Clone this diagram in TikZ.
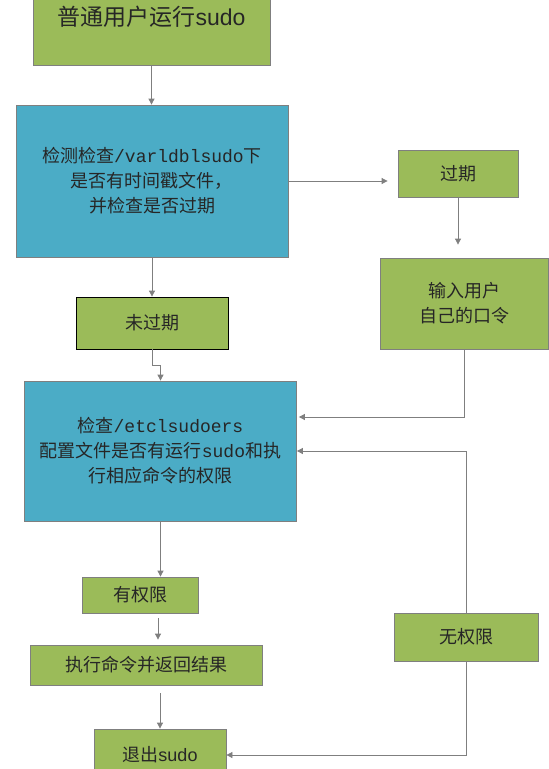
\documentclass[tikz,border=0pt]{standalone}
\usepackage{fontspec}
\setmainfont{Noto Sans CJK SC}
\newfontfamily\cjk{Noto Sans CJK SC}
\newfontfamily\mono{Liberation Mono}
\newfontfamily\arial{Liberation Sans}
\usetikzlibrary{positioning, calc, arrows.meta}
\usepackage{xcolor}
\definecolor{boxgreen}{HTML}{9BBB59}
\definecolor{boxblue}{HTML}{4BACC6}
\definecolor{edgegray}{HTML}{7F7F7F}
\tikzset{greenbox/.style={draw=edgegray, fill=boxgreen, text=black!85, line width=0.8pt, inner sep=0pt, align=center, font=\cjk\fontsize{18}{25}\selectfont}}
\tikzset{bluebox/.style={greenbox, fill=boxblue}}
\tikzset{flow/.style={draw=edgegray, line width=0.8pt, ->, >={Triangle[length=6pt, width=6pt]}}}

\begin{document}
\begin{tikzpicture}[x=1pt, y=-1pt]
      \useasboundingbox (0,0) rectangle (549,769);
      \node[greenbox, minimum width=237pt, minimum height=96pt, font=\cjk\fontsize{23}{28}\selectfont] (b0) at (151.5,17) {普通用户运行{\arial sudo}};
      \node[bluebox, minimum width=272pt, minimum height=152pt] (c0) at (152,181) {检测检查{\mono /varldblsudo}下\\是否有时间戳文件，\\并检查是否过期};
      \node[greenbox, minimum width=120pt, minimum height=47pt] (e0) at (458,173.5) {过期};
      \node[greenbox, minimum width=168pt, minimum height=91pt] (i0) at (464,303.5) {输入用户\\自己的口令};
      \node[greenbox, draw=black, minimum width=152pt, minimum height=52pt] (n0) at (152,323) {未过期};
      \node[bluebox, minimum width=272pt, minimum height=140pt] (c1) at (160.5,451) {检查{\mono /etclsudoers}\\配置文件是否有运行{\mono sudo}和执\\行相应命令的权限};
      \node[greenbox, minimum width=116pt, minimum height=36pt] (y0) at (140,595) {有权限};
      \node[greenbox, minimum width=232pt, minimum height=40pt] (x0) at (146.5,665) {执行命令并返回结果};
      \node[greenbox, minimum width=132pt, minimum height=52pt] (q0) at (160,755) {退出{\arial sudo}};
      \node[greenbox, minimum width=144pt, minimum height=48pt] (w0) at (466,637) {无权限};

      \draw[flow] (b0.south) -- (b0.south |- c0.north);
      \draw[flow, shorten >=10pt] (c0.east) -- (c0.east -| e0.west);
      \draw[flow, shorten >=13pt] (e0.south) -- (e0.south |- i0.north);
      \draw[flow] (c0.south) -- (n0.north);
      \draw[flow] (n0.south) -- ++(0,16) -| (c1.north);
      \draw[flow, shorten >=2pt] (i0.south) |- ([yshift=34pt]c1.east);
      \draw[flow] (w0.north) |- (c1.east);
      \draw[flow] (c1.south) -- (c1.south |- y0.north);
      \draw[flow, shorten <=5pt, shorten >=5pt] ([xshift=18pt]y0.south) -- ([xshift=18pt]y0.south |- x0.north);
      \draw[flow, shorten <=8pt] ([xshift=13.5pt]x0.south) -- ([xshift=13.5pt]x0.south |- q0.north);
      \draw[flow] (w0.south) |- (q0.east);
    \end{tikzpicture}
\end{document}
